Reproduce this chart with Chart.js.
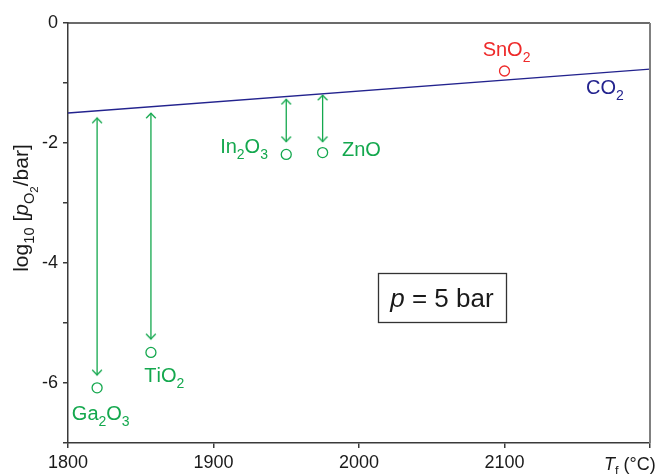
<!DOCTYPE html>
<html lang="en">
<head>
<meta charset="UTF-8">
<title>log10 pO2 vs Tf</title>
<script src="https://cdn.jsdelivr.net/npm/chart.js"></script>
<style>
  html, body { margin: 0; padding: 0; background: #fff; }
  #wrap { width: 657px; height: 474px; }
</style>
</head>
<body>
<div id="wrap"><canvas id="chart"></canvas></div>
<script>
// oxide points (Tf in degC, log10 pO2 in bar)
const oxides = ['Ga_2O_3', 'TiO_2', 'In_2O_3', 'ZnO', 'SnO_2'];
const oxideTf = [1820, 1857, 1950, 1975, 2100];
const oxideLogP = [-6.08, -5.49, -2.19, -2.16, -0.8];

// CO2 line
const co2Tf = [1800, 2200];
const co2LogP = [-1.5, -0.77];

// double arrows for Ga2O3, TiO2, In2O3, ZnO
const arrowTf = [1820, 1857, 1950, 1975];
const arrowTop = [-1.58, -1.5, -1.27, -1.2];
const arrowBottom = [-5.87, -5.27, -1.98, -1.98];

const xTicks = [1800, 1900, 2000, 2100, 2200];
const yTicks = [0, -1, -2, -3, -4, -5, -6, -7];

// styles
const GREEN = '#14a84e';
const RED = '#ee2a2a';
const NAVY = '#23238e';
const AXIS = '#3a3a3a';
const FONT = '"Liberation Sans", Arial, Helvetica, sans-serif';
const oxideColors = [GREEN, GREEN, GREEN, GREEN, RED];

// label anchors in data coordinates (text centre, baseline)
const labelSpots = [
    { text: 'Ga_2O_3', x: 1822.5, y: -6.62, color: GREEN },
    { text: 'TiO_2', x: 1866.2, y: -5.98, color: GREEN },
    { text: 'In_2O_3', x: 1921, y: -2.17, color: GREEN },
    { text: 'ZnO', x: 2001.7, y: -2.21, color: GREEN },
    { text: 'SnO_2', x: 2101.4, y: -0.55, color: RED },
    { text: 'CO_2', x: 2169, y: -1.18, color: NAVY }
];

Chart.defaults.font.family = FONT;

function makeArrowHead(color) {
    const c = document.createElement('canvas');
    c.width = 12; c.height = 12;
    const g = c.getContext('2d');
    g.strokeStyle = color;
    g.lineWidth = 1.3;
    g.beginPath();
    g.moveTo(1.2, 11.2);
    g.lineTo(6, 6.2);
    g.lineTo(10.8, 11.2);
    g.stroke();
    return c;
}
const headGreen = makeArrowHead(GREEN);

// "Ga_2O_3" -> segments, char after _ is subscript
function parseRich(str) {
    const segs = [];
    for (let i = 0; i < str.length; i++) {
        if (str[i] === '_') { segs.push({ t: str[i + 1], level: 1 }); i++; }
        else segs.push({ t: str[i], level: 0 });
    }
    return segs;
}

function segFont(seg, size) {
    const s = seg.level === 0 ? size : seg.level === 1 ? size * 0.7 : size * 0.55;
    return (seg.italic ? 'italic ' : '') + s.toFixed(1) + 'px ' + FONT;
}
function segShift(seg, size) {
    return seg.level === 0 ? 0 : seg.level === 1 ? size * 0.3 : size * 0.48;
}

function drawRich(ctx, segs, x, y, size, align) {
    let total = 0;
    segs.forEach(s => { ctx.font = segFont(s, size); total += ctx.measureText(s.t).width; });
    let cx = align === 'center' ? x - total / 2 : align === 'right' ? x - total : x;
    ctx.textAlign = 'left';
    ctx.textBaseline = 'alphabetic';
    segs.forEach(s => {
        ctx.font = segFont(s, size);
        ctx.fillText(s.t, cx, y + segShift(s, size));
        cx += ctx.measureText(s.t).width;
    });
}

const extrasPlugin = {
    id: 'extras',
    afterDraw(chart) {
        const ctx = chart.ctx;
        const a = chart.chartArea;
        const xs = chart.scales.x, ys = chart.scales.y;
        ctx.save();
        // frame top and right
        ctx.lineWidth = 1.5;
        ctx.strokeStyle = AXIS;
        ctx.beginPath();
        ctx.moveTo(a.left, a.top); ctx.lineTo(a.right, a.top);
        ctx.stroke();
        ctx.strokeStyle = '#808080';
        ctx.lineWidth = 2;
        ctx.beginPath();
        ctx.moveTo(a.right, a.top); ctx.lineTo(a.right, a.bottom);
        ctx.stroke();

        // series labels
        labelSpots.forEach(l => {
            ctx.fillStyle = l.color;
            drawRich(ctx, parseRich(l.text), xs.getPixelForValue(l.x), ys.getPixelForValue(l.y), 20, 'center');
        });

        // pressure box
        const bx = xs.getPixelForValue(2057), by = ys.getPixelForValue(-4.575);
        ctx.strokeStyle = '#333';
        ctx.lineWidth = 1.3;
        ctx.strokeRect(Math.round(bx - 64) + 0.5, Math.round(by - 24.5) + 0.5, 128, 49);
        ctx.fillStyle = '#1a1a1a';
        drawRich(ctx, [{ t: 'p', level: 0, italic: true }, { t: ' = 5 bar', level: 0 }], bx, by + 9, 26, 'center');

        // x axis title in place of the 2200 label
        ctx.fillStyle = '#1a1a1a';
        drawRich(ctx, [{ t: 'T', level: 0, italic: true }, { t: 'f', level: 1 }, { t: ' (\u00b0C)', level: 0 }], 604, 470, 18, 'left');

        // y axis title
        ctx.translate(28, (a.top + a.bottom) / 2 - 25);
        ctx.rotate(-Math.PI / 2);
        drawRich(ctx, [
            { t: 'log', level: 0 }, { t: '10', level: 1 }, { t: ' [', level: 0 },
            { t: 'p', level: 0, italic: true }, { t: 'O', level: 1 }, { t: '2', level: 2 },
            { t: '/bar]', level: 0 }
        ], 0, 0, 21, 'center');
        ctx.restore();
    }
};

const datasets = [];
datasets.push({
    label: 'CO2',
    data: co2Tf.map((t, i) => ({ x: t, y: co2LogP[i] })),
    showLine: true,
    borderColor: NAVY,
    borderWidth: 1.3,
    pointRadius: 0
});
arrowTf.forEach((t, i) => {
    datasets.push({
        label: 'arrow ' + oxides[i],
        data: [{ x: t, y: arrowTop[i] }, { x: t, y: arrowBottom[i] }],
        showLine: true,
        borderColor: GREEN,
        borderWidth: 1.3,
        pointStyle: headGreen,
        pointRotation: [0, 180],
        pointRadius: 5
    });
});
datasets.push({
    label: 'oxides',
    data: oxideTf.map((t, i) => ({ x: t, y: oxideLogP[i] })),
    pointStyle: 'circle',
    pointRadius: 5,
    borderWidth: 1.3,
    borderColor: oxideColors,
    backgroundColor: '#fff'
});

new Chart(document.getElementById('chart'), {
    type: 'scatter',
    data: { datasets: datasets },
    options: {
        responsive: true,
        maintainAspectRatio: false,
        animation: false,
        events: [],
        layout: { padding: { top: 23, right: 7, left: 0, bottom: 0 } },
        plugins: { legend: { display: false }, tooltip: { enabled: false } },
        scales: {
            x: {
                type: 'linear',
                min: 1800, max: 2200,
                afterBuildTicks: s => { s.ticks = xTicks.map(v => ({ value: v })); },
                afterFit: s => { s.height = 31; },
                ticks: {
                    callback: v => v === 2200 ? '' : String(v),
                    color: '#1a1a1a',
                    font: { size: 18 },
                    padding: 4,
                    maxRotation: 0
                },
                grid: { drawOnChartArea: false, drawTicks: true, tickLength: 5, color: AXIS, lineWidth: 1.5 },
                border: { color: AXIS, width: 1.5 }
            },
            y: {
                type: 'linear',
                min: -7, max: 0,
                afterBuildTicks: s => { s.ticks = yTicks.map(v => ({ value: v })); },
                afterFit: s => { s.width = 68; },
                ticks: {
                    callback: v => v % 2 === 0 ? String(v) : '',
                    color: '#1a1a1a',
                    font: { size: 18 },
                    padding: 5
                },
                grid: { drawOnChartArea: false, drawTicks: true, tickLength: 5, color: AXIS, lineWidth: 1.5 },
                border: { color: AXIS, width: 1.5 }
            }
        }
    },
    plugins: [extrasPlugin]
});
</script>
</body>
</html>
